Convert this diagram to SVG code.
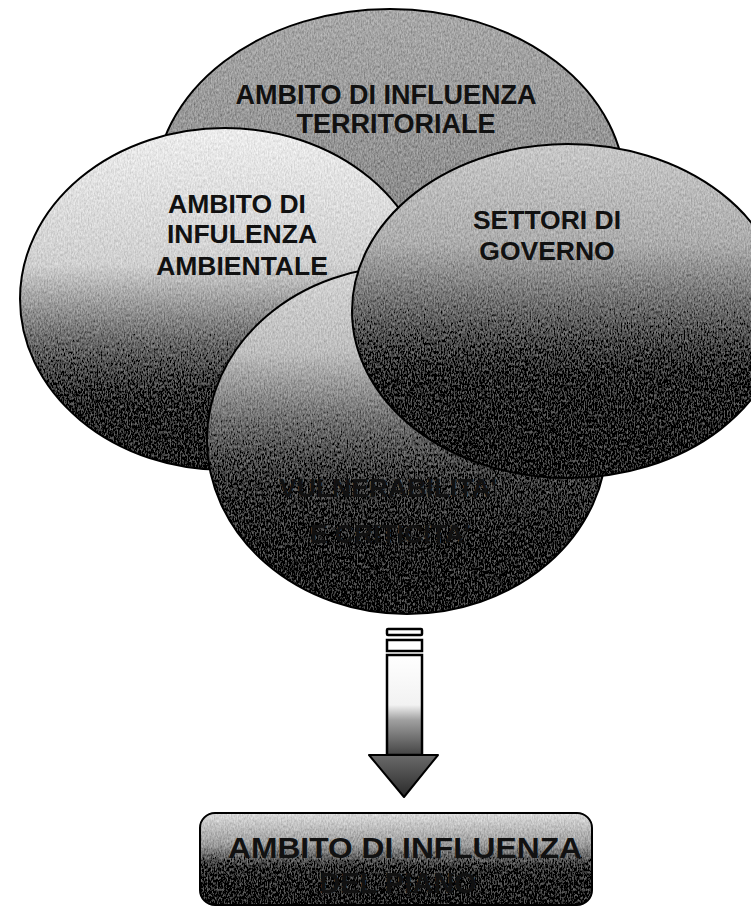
<svg xmlns="http://www.w3.org/2000/svg" width="751" height="912" viewBox="0 0 751 912">
<style>
.lbl{font-family:"Liberation Sans",Arial,sans-serif;font-weight:bold;fill:#111;text-anchor:middle}
.ell{stroke:#000;stroke-width:2}
</style>
<defs>
<filter id="grain" x="-2%" y="-2%" width="104%" height="104%">
<feTurbulence type="fractalNoise" baseFrequency="0.7 0.35" numOctaves="2" seed="4" result="n"/>
<feColorMatrix in="n" type="matrix" values="1 0 0 0 0  1 0 0 0 0  1 0 0 0 0  0 0 0 0 1" result="g"/>
<feComposite in="SourceGraphic" in2="g" operator="arithmetic" k1="0" k2="1" k3="0.45" k4="-0.225" result="mix"/>
<feComposite in="mix" in2="SourceGraphic" operator="in"/>
</filter>
<linearGradient id="gTop" x1="0" y1="0" x2="0" y2="1">
<stop offset="0" stop-color="#a8a8a8"/><stop offset="0.5" stop-color="#8e8e8e"/><stop offset="1" stop-color="#555"/>
</linearGradient>
<linearGradient id="gLeft" x1="0" y1="0" x2="0" y2="1">
<stop offset="0" stop-color="#ececec"/><stop offset="0.4" stop-color="#cfcfcf"/><stop offset="0.62" stop-color="#6a6a6a"/><stop offset="0.8" stop-color="#262626"/><stop offset="1" stop-color="#111"/>
</linearGradient>
<linearGradient id="gRight" x1="0" y1="0" x2="0" y2="1">
<stop offset="0" stop-color="#c8c8c8"/><stop offset="0.3" stop-color="#ababab"/><stop offset="0.52" stop-color="#606060"/><stop offset="0.7" stop-color="#222"/><stop offset="1" stop-color="#080808"/>
</linearGradient>
<linearGradient id="gBot" x1="0" y1="0" x2="0" y2="1">
<stop offset="0" stop-color="#d4d4d4"/><stop offset="0.25" stop-color="#bdbdbd"/><stop offset="0.45" stop-color="#6c6c6c"/><stop offset="0.62" stop-color="#333"/><stop offset="0.8" stop-color="#111"/><stop offset="1" stop-color="#000"/>
</linearGradient>
<linearGradient id="gBox" x1="0" y1="0" x2="0" y2="1">
<stop offset="0" stop-color="#dcdcdc"/><stop offset="0.35" stop-color="#9a9a9a"/><stop offset="0.6" stop-color="#2a2a2a"/><stop offset="1" stop-color="#000"/>
</linearGradient>
<linearGradient id="gShaft" x1="0" y1="0" x2="0" y2="1">
<stop offset="0" stop-color="#fff"/><stop offset="0.5" stop-color="#f2f2f2"/><stop offset="0.65" stop-color="#a0a0a0"/><stop offset="1" stop-color="#444"/>
</linearGradient>
<linearGradient id="gHead" x1="0" y1="0" x2="0" y2="1">
<stop offset="0" stop-color="#6a6a6a"/><stop offset="1" stop-color="#2a2a2a"/>
</linearGradient>
</defs>
<rect width="751" height="912" fill="#fff"/>

<g id="territoriale">
<ellipse cx="390" cy="189" rx="235" ry="180" fill="url(#gTop)" filter="url(#grain)"/>
<ellipse class="ell" cx="390" cy="189" rx="235" ry="180" fill="none"/>
<text class="lbl" font-size="27"><tspan x="386" y="104">AMBITO DI INFLUENZA</tspan><tspan x="396" y="133">TERRITORIALE</tspan></text>
</g>

<g id="ambientale">
<ellipse cx="225" cy="299" rx="205" ry="171" fill="url(#gLeft)" filter="url(#grain)"/>
<ellipse class="ell" cx="225" cy="299" rx="205" ry="171" fill="none"/>
<text class="lbl" font-size="26.5"><tspan x="237" y="213">AMBITO DI</tspan><tspan x="242" y="243">INFULENZA</tspan><tspan x="242" y="275">AMBIENTALE</tspan></text>
</g>

<g id="vulnerabilita">
<ellipse cx="407" cy="440" rx="200" ry="174" fill="url(#gBot)" filter="url(#grain)"/>
<ellipse class="ell" cx="407" cy="440" rx="200" ry="174" fill="none"/>
<text class="lbl" font-size="26.5"><tspan x="388" y="497">VULNERABILITA'</tspan><tspan x="390" y="543">E CRITICITA'</tspan></text>
</g>

<g id="settori">
<ellipse cx="568" cy="311" rx="216" ry="167" fill="url(#gRight)" filter="url(#grain)"/>
<ellipse class="ell" cx="568" cy="311" rx="216" ry="167" fill="none"/>
<text class="lbl" font-size="26.5"><tspan x="547" y="229">SETTORI DI</tspan><tspan x="547" y="260">GOVERNO</tspan></text>
</g>

<g id="connectors">
<rect x="387" y="629" width="35" height="6" rx="1" fill="#fff" stroke="#000" stroke-width="2.5"/>
<rect x="387" y="640" width="35" height="11" fill="#fff" stroke="#000" stroke-width="2.5"/>
<rect x="387" y="655" width="35" height="100" fill="url(#gShaft)" stroke="#000" stroke-width="2.5"/>
<polygon points="369,755 438,755 404,797" fill="url(#gHead)" stroke="#000" stroke-width="2" stroke-linejoin="round"/>
</g>

<g id="ambito-finale">
<rect x="200" y="813" width="392" height="92" rx="15" fill="url(#gBox)" filter="url(#grain)"/>
<rect x="200" y="813" width="392" height="92" rx="15" fill="none" stroke="#000" stroke-width="2"/>
<text class="lbl" font-size="29"><tspan x="405" y="858" textLength="354" lengthAdjust="spacingAndGlyphs">AMBITO DI INFLUENZA</tspan><tspan x="398" y="893">DEL PIANO</tspan></text>
</g>
</svg>
